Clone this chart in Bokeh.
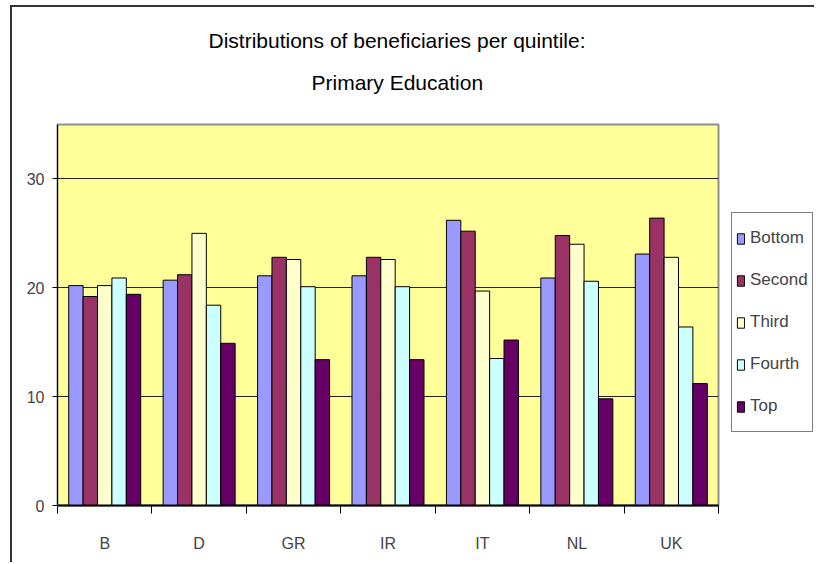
from bokeh.plotting import figure
from bokeh.layouts import row
from bokeh.models import (ColumnDataSource, FixedTicker, Legend, LegendItem, Title, Range1d)
from bokeh.transform import dodge
from bokeh.embed import file_html
from bokeh.resources import INLINE

countries = ["B", "D", "GR", "IR", "IT", "NL", "UK"]
quintiles = ["Bottom", "Second", "Third", "Fourth", "Top"]
bottom = [20.2, 20.7, 21.1, 21.1, 26.2, 20.9, 23.1]
second = [19.2, 21.2, 22.8, 22.8, 25.2, 24.8, 26.4]
third = [20.2, 25.0, 22.6, 22.6, 19.7, 24.0, 22.8]
fourth = [20.9, 18.4, 20.1, 20.1, 13.5, 20.6, 16.4]
top = [19.4, 14.9, 13.4, 13.4, 15.2, 9.8, 11.2]
colors = ["#9999FF", "#993366", "#FFFFCC", "#CCFFFF", "#660066"]
y_ticks = [0, 10, 20, 30]
title_lines = ["Distributions of beneficiaries per quintile:", "Primary Education"]

FONT = "Liberation Sans"

series = [bottom, second, third, fourth, top]
src = ColumnDataSource(dict(
    x=[i + 0.5 for i in range(len(countries))],
    **{q: v for q, v in zip(quintiles, series)}
))

p = figure(width=718, height=557, output_backend="svg", toolbar_location=None,
           x_range=Range1d(0, len(countries)), y_range=Range1d(0, 35),
           min_border_left=45, min_border_right=12, min_border_top=117,
           min_border_bottom=59)
p.background_fill_color = "#FFFF99"
p.border_fill_color = "white"
p.outline_line_color = "#909090"
p.outline_line_width = 2

bw = 0.1525
for k, (q, c) in enumerate(zip(quintiles, colors)):
    p.vbar(x=dodge("x", (k - 2) * bw, range=p.x_range), top=q, width=bw,
           source=src, fill_color=c, line_color="black", line_width=1)

# axes
p.xgrid.visible = False
p.ygrid.ticker = FixedTicker(ticks=y_ticks)
p.ygrid.grid_line_color = "#222222"
p.ygrid.grid_line_width = 1

p.yaxis.ticker = FixedTicker(ticks=y_ticks)
p.yaxis.major_tick_out = 5
p.yaxis.major_tick_in = 0
p.yaxis.minor_tick_line_color = None
p.yaxis.axis_line_color = "black"
p.yaxis.major_label_text_font = FONT
p.yaxis.major_label_text_font_size = "16px"
p.yaxis.major_label_standoff = 8

p.xaxis.ticker = FixedTicker(ticks=[i + 0.5 for i in range(len(countries))],
                             minor_ticks=list(range(len(countries) + 1)))
p.xaxis.major_label_overrides = {i + 0.5: c for i, c in enumerate(countries)}
p.xaxis.major_tick_line_color = None
p.xaxis.major_tick_out = 0
p.xaxis.major_tick_in = 0
p.xaxis.minor_tick_out = 8
p.xaxis.minor_tick_in = 0
p.xaxis.axis_line_color = "black"
p.xaxis.axis_line_width = 2
p.xaxis.major_label_text_font = FONT
p.xaxis.major_label_text_font_size = "16px"
p.xaxis.major_label_standoff = 21

# spacer between the plot area and the title block
p.add_layout(Title(text=" ", text_font_size="1px", standoff=18), "above")
# title lines (added bottom-most first), left-aligned with pixel offsets
for txt, sd, off in [(title_lines[1], 20, 254), (title_lines[0], 14, 151)]:
    p.add_layout(Title(text=txt, align="left", offset=off, standoff=sd,
                       text_font=FONT, text_font_size="21px",
                       text_font_style="normal", text_color="black"), "above")

# legend panel (separate small figure to the right of the plot area)
lg = figure(width=86, height=557, output_backend="svg", toolbar_location=None,
            x_range=Range1d(-2, -1), y_range=Range1d(-2, -1),
            x_axis_type=None, y_axis_type=None, min_border=0)
lg.outline_line_color = None
lg.background_fill_color = "white"
lg.border_fill_color = "white"
lg.xgrid.visible = False
lg.ygrid.visible = False
items = []
for q, c in zip(quintiles, colors):
    r = lg.vbar(x="x", top=q, width=bw, source=src,
                fill_color=c, line_color="black", line_width=1)
    items.append(LegendItem(label=q, renderers=[r]))
legend = Legend(items=items, location=(1, 73), orientation="vertical")
legend.label_text_font = FONT
legend.label_text_font_size = "17px"
legend.glyph_width = 9
legend.glyph_height = 13
legend.label_height = 42
legend.spacing = 0
legend.padding = 4
legend.margin = 0
legend.label_standoff = 5
legend.border_line_color = "black"
legend.border_line_width = 1
legend.background_fill_color = "white"
legend.background_fill_alpha = 1
lg.add_layout(legend, "center")

layout = row(p, lg, spacing=0)
layout.margin = (7, 0, 0, 12)
layout.styles = {"box-shadow": "-2px -2px 0 0 #333333"}

open("out.html", "w").write(file_html(layout, INLINE))
